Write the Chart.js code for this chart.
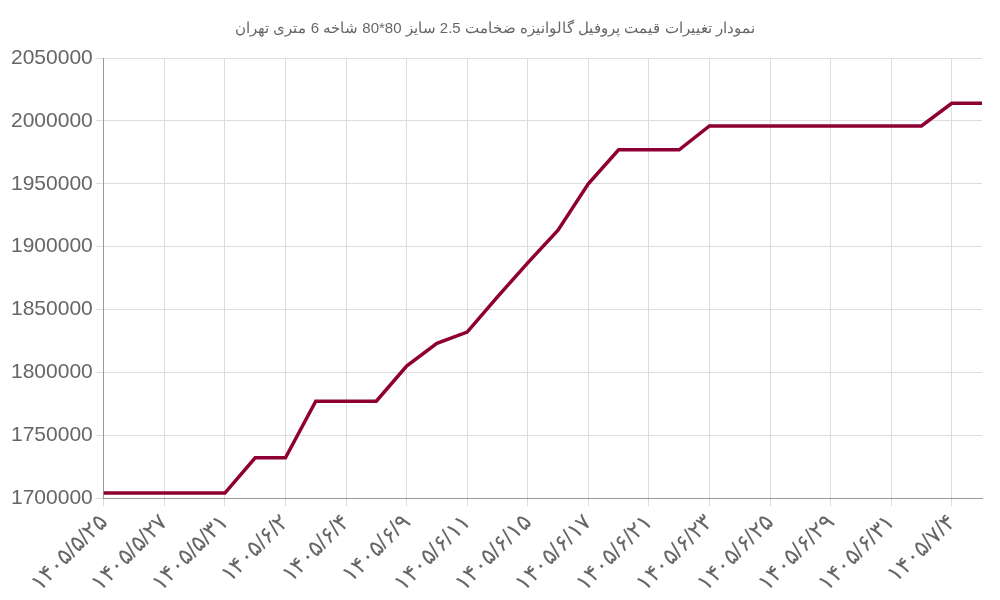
<!DOCTYPE html>
<html><head><meta charset="utf-8">
<script src="https://cdn.jsdelivr.net/npm/chart.js@4"></script>
<style>html,body{margin:0;background:#fff}#w{width:1000px;height:600px}</style>
</head><body><div id="w"><canvas id="c"></canvas></div>
<script>
const labels=["۱۴۰۵/۵/۲۵","۱۴۰۵/۵/۲۶","۱۴۰۵/۵/۲۷","۱۴۰۵/۵/۲۸","۱۴۰۵/۵/۳۱","۱۴۰۵/۶/۱","۱۴۰۵/۶/۲","۱۴۰۵/۶/۳","۱۴۰۵/۶/۴","۱۴۰۵/۶/۸","۱۴۰۵/۶/۹","۱۴۰۵/۶/۱۰","۱۴۰۵/۶/۱۱","۱۴۰۵/۶/۱۴","۱۴۰۵/۶/۱۵","۱۴۰۵/۶/۱۶","۱۴۰۵/۶/۱۷","۱۴۰۵/۶/۱۸","۱۴۰۵/۶/۲۱","۱۴۰۵/۶/۲۲","۱۴۰۵/۶/۲۳","۱۴۰۵/۶/۲۴","۱۴۰۵/۶/۲۵","۱۴۰۵/۶/۲۸","۱۴۰۵/۶/۲۹","۱۴۰۵/۶/۳۰","۱۴۰۵/۶/۳۱","۱۴۰۵/۷/۱","۱۴۰۵/۷/۴","۱۴۰۵/۷/۵"];
const prices=[1704000,1704000,1704000,1704000,1704000,1732000,1732000,1777000,1777000,1777000,1805000,1823000,1832000,1860000,1887000,1913000,1950000,1977000,1977000,1977000,1996000,1996000,1996000,1996000,1996000,1996000,1996000,1996000,2014000,2014000];
const title="نمودار تغییرات قیمت پروفیل گالوانیزه ضخامت 2.5 سایز 80*80 شاخه 6 متری تهران";
new Chart(document.getElementById('c'),{type:'line',
data:{labels:labels,datasets:[{data:prices,borderColor:'#8e0034',borderWidth:3.5,pointRadius:0,tension:0,fill:false}]},
options:{responsive:true,maintainAspectRatio:false,animation:false,
layout:{padding:{right:18,left:8}},
plugins:{legend:{display:false},title:{display:true,text:title,color:'#666',font:{family:'Liberation Sans',size:15,weight:'normal'},padding:{top:20,bottom:20}}},
scales:{x:{ticks:{color:'#666',font:{family:'Liberation Sans',size:23},maxRotation:45,minRotation:45,autoSkip:true,autoSkipPadding:2},grid:{color:'#ddd'},border:{color:'#999'}},
y:{min:1700000,max:2050000,ticks:{stepSize:50000,color:'#666',font:{family:'Liberation Sans',size:21},callback:v=>String(v)},grid:{color:'#ddd'},border:{color:'#999'}}}}});
</script></body></html>
